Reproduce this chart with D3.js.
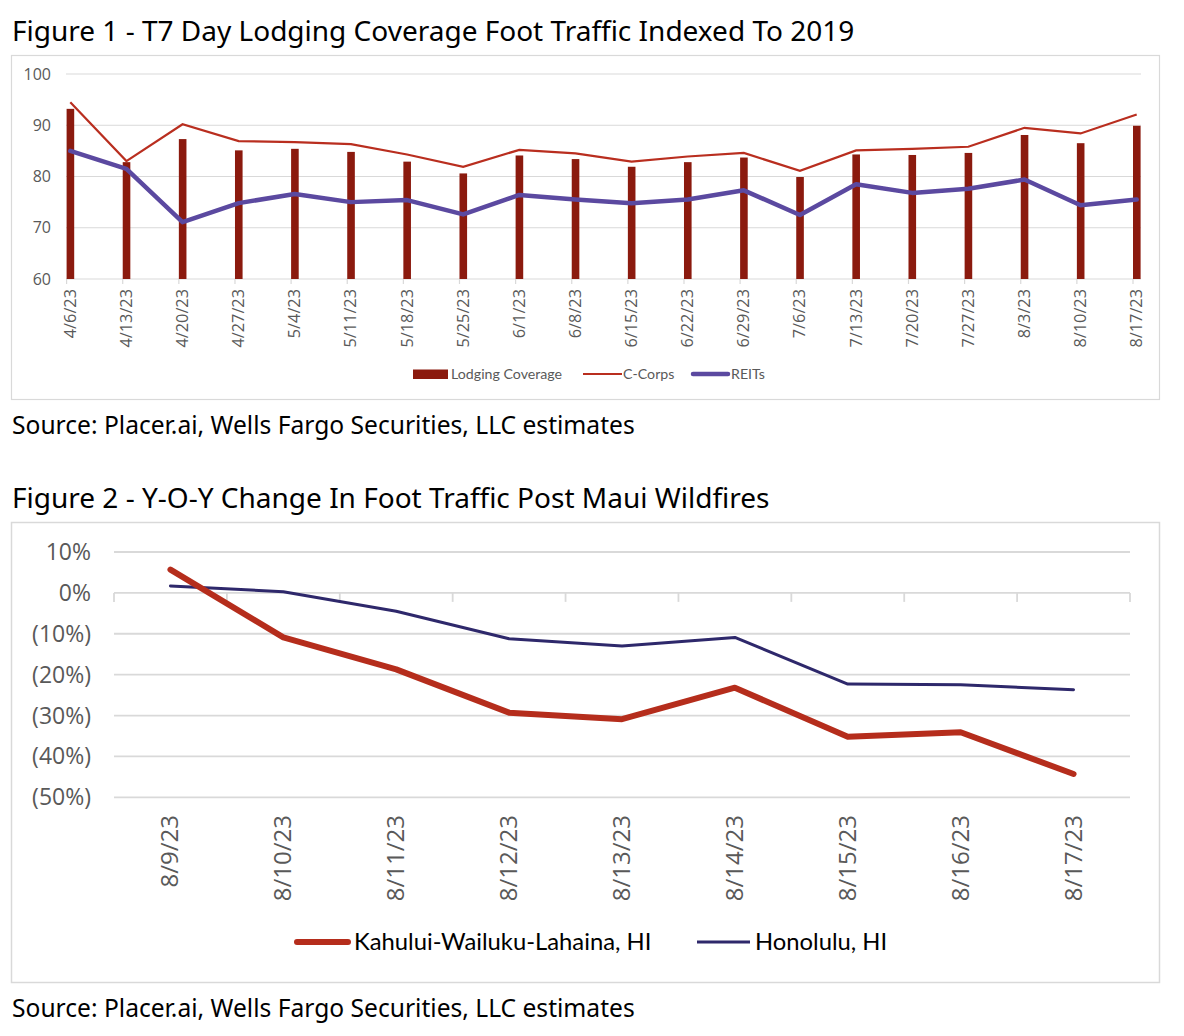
<!DOCTYPE html>
<html>
<head>
<meta charset="utf-8">
<script src="https://cdn.jsdelivr.net/npm/d3@7"></script>
<style>
  html, body { margin: 0; padding: 0; background: #fff; }
  svg { display: block; }
  text { font-variant-ligatures: none; }
</style>
</head>
<body>
<svg id="chart" width="1184" height="1036"></svg>
<script>
// ---------- Figure 1 data ----------
const weeks = ["4/6/23","4/13/23","4/20/23","4/27/23","5/4/23","5/11/23","5/18/23","5/25/23","6/1/23","6/8/23",
  "6/15/23","6/22/23","6/29/23","7/6/23","7/13/23","7/20/23","7/27/23","8/3/23","8/10/23","8/17/23"];
const lodgingCoverage = [93.2,82.8,87.3,85.1,85.4,84.8,82.9,80.6,84.1,83.4,81.9,82.8,83.7,79.9,84.3,84.2,84.6,88.1,86.5,89.9];
const cCorps = [94.5,83.0,90.2,86.9,86.7,86.3,84.3,81.9,85.2,84.5,82.9,83.9,84.6,81.1,85.1,85.4,85.8,89.5,88.4,92.1];
const reits = [85.0,81.5,71.1,74.8,76.6,75.0,75.4,72.6,76.4,75.5,74.8,75.5,77.3,72.5,78.5,76.8,77.6,79.4,74.4,75.5];
const fig1Ticks = [60,70,80,90,100];

// ---------- Figure 2 data ----------
const days = ["8/9/23","8/10/23","8/11/23","8/12/23","8/13/23","8/14/23","8/15/23","8/16/23","8/17/23"];
const kahului = [5.7,-10.9,-18.7,-29.3,-30.9,-23.2,-35.2,-34.1,-44.3];
const honolulu = [1.7,0.3,-4.5,-11.2,-13.0,-10.9,-22.3,-22.5,-23.7];
const fig2Ticks = [10,0,-10,-20,-30,-40,-50];

const svg = d3.select("#chart");
svg.append("rect").attr("width",1184).attr("height",1036).attr("fill","#fff");

const titleFont = "'Noto Sans', 'Open Sans', sans-serif";
const legendFont = "Lato, 'Noto Sans', sans-serif";
const axisFont = "'Open Sans', 'Noto Sans', sans-serif";
const grid = "#d9d9d9";
const axisText = "#595959";

// ===== Figure 1 =====
svg.append("text").attr("x",12).attr("y",41).attr("font-family",titleFont).attr("font-size",28)
  .attr("fill","#000").text("Figure 1 - T7 Day Lodging Coverage Foot Traffic Indexed To 2019");
svg.append("rect").attr("x",11.5).attr("y",55.5).attr("width",1148).attr("height",344)
  .attr("fill","none").attr("stroke",grid).attr("stroke-width",1.2);

const y1 = d3.scaleLinear().domain([60,100]).range([279,74]);
const x1 = d3.scalePoint().domain(weeks).range([70.3,1136.7]);
const g1 = svg.append("g");

g1.selectAll("line.grid").data(fig1Ticks).join("line")
  .attr("x1",66).attr("x2",1141).attr("y1",d=>y1(d)).attr("y2",d=>y1(d))
  .attr("stroke",grid).attr("stroke-width",1.2);
g1.selectAll("text.ylab").data(fig1Ticks).join("text")
  .attr("x",51).attr("y",d=>y1(d)).attr("dy","0.35em").attr("text-anchor","end")
  .attr("font-family",axisFont).attr("font-size",16).attr("fill",axisText).text(d=>d);
g1.selectAll("line.tick").data(weeks).join("line")
  .attr("x1",d=>x1(d)-3.7).attr("x2",d=>x1(d)-3.7).attr("y1",279).attr("y2",284)
  .attr("stroke",grid).attr("stroke-width",1.2);
g1.selectAll("text.xlab").data(weeks).join("text")
  .attr("transform",d=>`translate(${x1(d)+5.5},289) rotate(-90)`).attr("text-anchor","end")
  .attr("font-family",axisFont).attr("font-size",16.3).attr("fill",axisText).text(d=>d);

g1.selectAll("rect.bar").data(lodgingCoverage).join("rect")
  .attr("x",(d,i)=>x1(weeks[i])-3.7).attr("width",7.6)
  .attr("y",d=>y1(d)).attr("height",d=>y1(60)-y1(d)).attr("fill","#8B1A0E");

const line1 = d3.line().x((d,i)=>x1(weeks[i])).y(d=>y1(d));
g1.append("path").attr("d",line1(cCorps)).attr("fill","none").attr("stroke","#B92E1F").attr("stroke-width",2.2);
g1.append("path").attr("d",line1(reits)).attr("fill","none").attr("stroke","#5B49A0").attr("stroke-width",4.5)
  .attr("stroke-linejoin","round").attr("stroke-linecap","round");

// legend fig1
const lg1 = svg.append("g").attr("font-family",legendFont).attr("font-size",14.2).attr("fill",axisText);
lg1.append("rect").attr("x",413).attr("y",369.5).attr("width",35).attr("height",9.5).attr("fill","#8B1A0E");
lg1.append("text").attr("x",451).attr("y",374).attr("dy","0.35em").text("Lodging Coverage");
lg1.append("line").attr("x1",583).attr("x2",622).attr("y1",374).attr("y2",374).attr("stroke","#B92E1F").attr("stroke-width",2.2);
lg1.append("text").attr("x",623).attr("y",374).attr("dy","0.35em").text("C-Corps");
lg1.append("line").attr("x1",693).attr("x2",728).attr("y1",374).attr("y2",374).attr("stroke","#5B49A0").attr("stroke-width",4.5).attr("stroke-linecap","round");
lg1.append("text").attr("x",731).attr("y",374).attr("dy","0.35em").text("REITs");

svg.append("text").attr("x",12).attr("y",434).attr("font-family",titleFont).attr("font-size",24.6)
  .attr("fill","#000").text("Source: Placer.ai, Wells Fargo Securities, LLC estimates");

// ===== Figure 2 =====
svg.append("text").attr("x",12).attr("y",508).attr("font-family",titleFont).attr("font-size",28)
  .attr("fill","#000").text("Figure 2 - Y-O-Y Change In Foot Traffic Post Maui Wildfires");
svg.append("rect").attr("x",11.5).attr("y",522.5).attr("width",1148).attr("height",460)
  .attr("fill","none").attr("stroke",grid).attr("stroke-width",1.5);

const y2 = d3.scaleLinear().domain([-50,10]).range([797.3,552]);
const x2 = d3.scaleBand().domain(days).range([114,1130]).padding(0);
const cx2 = d => x2(d) + x2.bandwidth()/2;
const g2 = svg.append("g");
const pct = d => d < 0 ? `(${Math.abs(d)}%)` : `${d}%`;

g2.selectAll("line.grid").data(fig2Ticks).join("line")
  .attr("x1",114).attr("x2",1130).attr("y1",d=>y2(d)).attr("y2",d=>y2(d))
  .attr("stroke",grid).attr("stroke-width",1.8);
g2.selectAll("line.tick").data(d3.range(days.length+1)).join("line")
  .attr("x1",i=>114+i*x2.bandwidth()).attr("x2",i=>114+i*x2.bandwidth())
  .attr("y1",y2(0)).attr("y2",y2(0)+9).attr("stroke",grid).attr("stroke-width",1.8);
g2.selectAll("text.ylab").data(fig2Ticks).join("text")
  .attr("x",91).attr("y",d=>y2(d)).attr("dy","0.35em").attr("text-anchor","end")
  .attr("font-family",axisFont).attr("font-size",23).attr("fill",axisText).text(pct);
g2.selectAll("text.xlab").data(days).join("text")
  .attr("transform",d=>`translate(${cx2(d)+8},815) rotate(-90)`).attr("text-anchor","end")
  .attr("font-family",axisFont).attr("font-size",24).attr("fill",axisText).text(d=>d);

const line2 = d3.line().x((d,i)=>cx2(days[i])).y(d=>y2(d));
g2.append("path").attr("d",line2(honolulu)).attr("fill","none").attr("stroke","#2E286B").attr("stroke-width",3)
  .attr("stroke-linecap","round").attr("stroke-linejoin","round");
g2.append("path").attr("d",line2(kahului)).attr("fill","none").attr("stroke","#B52D1C").attr("stroke-width",6)
  .attr("stroke-linecap","round").attr("stroke-linejoin","round");

const lg2 = svg.append("g").attr("font-family",legendFont).attr("font-size",23.8).attr("fill","#000");
lg2.append("line").attr("x1",297).attr("x2",348).attr("y1",942).attr("y2",942).attr("stroke","#B52D1C").attr("stroke-width",6).attr("stroke-linecap","round");
lg2.append("text").attr("x",354).attr("y",942).attr("dy","0.35em").text("Kahului-Wailuku-Lahaina, HI");
lg2.append("line").attr("x1",697).attr("x2",750).attr("y1",942).attr("y2",942).attr("stroke","#2E286B").attr("stroke-width",3);
lg2.append("text").attr("x",755).attr("y",942).attr("dy","0.35em").text("Honolulu, HI");

svg.append("text").attr("x",12).attr("y",1017).attr("font-family",titleFont).attr("font-size",24.6)
  .attr("fill","#000").text("Source: Placer.ai, Wells Fargo Securities, LLC estimates");
</script>
</body>
</html>
